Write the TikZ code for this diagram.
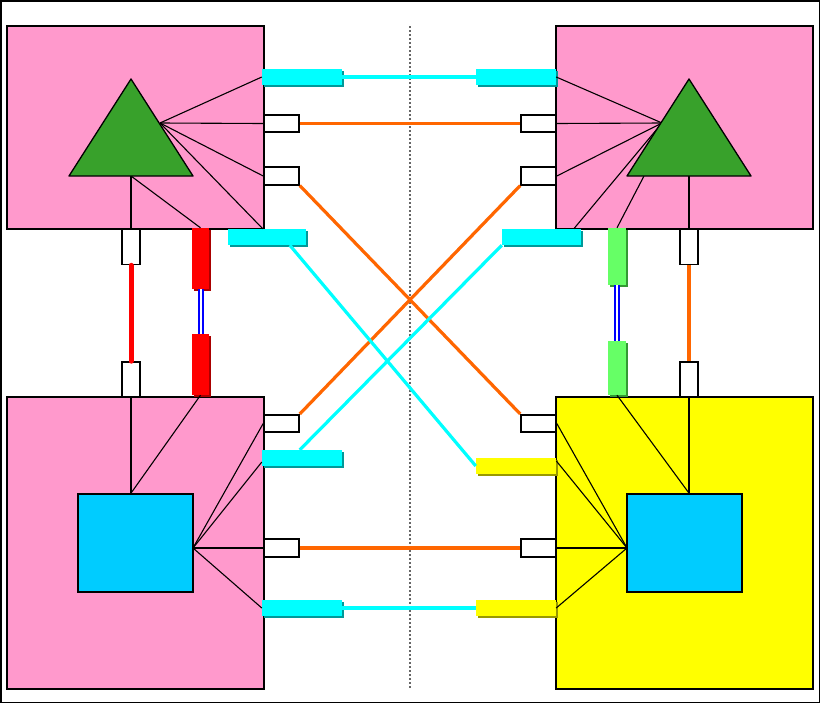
\documentclass[tikz,border=0pt]{standalone}
\usetikzlibrary{calc,shadows}
\definecolor{pinkc}{HTML}{FF99CC}
\definecolor{treec}{RGB}{56,161,43}
\definecolor{sqc}{HTML}{00CCFF}
\definecolor{cyanc}{HTML}{00FFFF}
\definecolor{cyansh}{HTML}{009999}
\definecolor{yelc}{HTML}{FFFF00}
\definecolor{yelsh}{HTML}{999900}
\definecolor{redc}{HTML}{FF0000}
\definecolor{redsh}{HTML}{AA0000}
\definecolor{grnc}{HTML}{66FF66}
\definecolor{grnsh}{HTML}{339933}
\definecolor{orc}{HTML}{FF6600}
\definecolor{dotc}{HTML}{666666}
\tikzset{
  x=1pt, y=-1pt,
  site/.style={draw=black, line width=1.7pt, fill=#1},
  port/.style={draw=black, line width=1.6pt, fill=white, inner sep=0pt, minimum width=35pt, minimum height=17.5pt},
  vport/.style={draw=black, line width=1.6pt, fill=white, inner sep=0pt, minimum width=17.5pt, minimum height=35pt},
  bar/.style 2 args={fill=#1, inner sep=0pt, drop shadow={shadow xshift=2pt, shadow yshift=-2pt, fill=#2, opacity=1}},
  cbar/.style={bar={cyanc}{cyansh}, minimum width=80pt, minimum height=16pt},
  ybar/.style={bar={yelc}{yelsh}, minimum width=80pt, minimum height=16pt},
  rbar/.style={bar={redc}{redsh}, minimum width=17pt, minimum height=61pt},
  gbar/.style={bar={grnc}{grnsh}, minimum width=18pt},
  sq/.style={draw=black, line width=1.7pt, fill=sqc, inner sep=0pt, minimum width=115pt, minimum height=98pt},
  fan/.style={draw=black, line width=1.1pt},
  orl/.style={draw=orc, line width=3.2pt},
  cyl/.style={draw=cyanc, line width=3.2pt},
  dbl/.style={draw=blue, line width=2pt, double=white, double distance=2pt},
}
\begin{document}
\begin{tikzpicture}
\useasboundingbox (0,0) rectangle (821,704);
\fill[white] (0,0) rectangle (821,704);
\draw[black, line width=1.4pt] (0.8,0.8) rectangle (819.6,702.6);
% centre divider
\coordinate (dtop) at (410,26);
\coordinate (dbot) at (410,689);
\draw[dotc, dotted, line width=2pt] (dtop) -- (dbot);

% sites
\node[site=pinkc, inner sep=0pt, minimum width=257pt, minimum height=203pt] (tlbox) at (135.5,127.5) {};
\node[site=pinkc, inner sep=0pt, minimum width=257pt, minimum height=203pt] (trbox) at (684.5,127.5) {};
\node[site=pinkc, inner sep=0pt, minimum width=257pt, minimum height=292pt] (blbox) at (135.5,543) {};
\node[site=yelc, inner sep=0pt, minimum width=257pt, minimum height=292pt] (brbox) at (684.5,543) {};

% ports
\node[port] (tl1) at (281.5,123.5) {};
\node[port] (tl2) at (281.5,176) {};
\node[port] (tr1) at (538.5,123.5) {};
\node[port] (tr2) at (538.5,176) {};
\node[port] (bl1) at (281.5,423.5) {};
\node[port] (bl2) at (281.5,548) {};
\node[port] (br1) at (538.5,423.5) {};
\node[port] (br2) at (538.5,548) {};
\node[vport] (tlv) at (131,247) {};
\node[vport] (blv) at (131,379.5) {};
\node[vport] (trv) at (689,247) {};
\node[vport] (brv) at (689,379.5) {};

% bars
\node[cbar] (tlc1) at (302,77) {};
\node[cbar, minimum width=78pt] (tlc2) at (267,237) {};
\node[cbar] (trc1) at (516,77) {};
\node[cbar, minimum width=79pt] (trc2) at (541.5,237) {};
\node[cbar] (blc1) at (302,458) {};
\node[cbar] (blc2) at (302,608) {};
\node[ybar] (bry1) at (516,466) {};
\node[ybar] (bry2) at (516,608) {};
\node[rbar] (red1) at (200.5,258.5) {};
\node[rbar] (red2) at (200.5,364.5) {};
\node[gbar, minimum height=57pt] (grn1) at (617,256.5) {};
\node[gbar, minimum height=54pt] (grn2) at (617,368) {};

% TL internals
\coordinate (tla) at (131,79);
\coordinate (tll) at (69,176);
\coordinate (tlr) at (193,176);
\coordinate (tlb) at (131,176);
\coordinate (tlf) at (160,123);
\draw[fan] (tlf) -- (tlc1.west);
\draw[fan] (tlf) -- (tl1.west);
\draw[fan] (tlf) -- (tl2.west);
\draw[fan] (tlf) -- ($(tlc2.north west)+(35,0)$);
\draw[fan] (tlb) -- (red1.north);
\draw[fan, line width=1.6pt] (tlb) -- (tlv.north);
\filldraw[fill=treec, draw=black, line width=1.3pt, line join=round] (tla) -- (tll) -- (tlr) -- cycle;

% TR internals
\coordinate (tra) at (689,79);
\coordinate (trl) at (627,176);
\coordinate (trr) at (751,176);
\coordinate (trb) at (689,176);
\coordinate (trg) at (644,176);
\coordinate (trf) at (662,123);
\draw[fan] (trf) -- (trc1.east);
\draw[fan] (trf) -- (tr1.east);
\draw[fan] (trf) -- (tr2.east);
\draw[fan] (trf) -- ($(trc2.north west)+(72,0)$);
\draw[fan] (trg) -- (grn1.north);
\draw[fan, line width=1.6pt] (trb) -- (trv.north);
\filldraw[fill=treec, draw=black, line width=1.3pt, line join=round] (tra) -- (trl) -- (trr) -- cycle;

% BL internals
\node[sq] (bls) at (135.5,543) {};
\coordinate (blf) at (193,548);
\draw[fan] (blf) -- (bl1.west);
\draw[fan] ($(blc1.west)+(0,4)$) -- (blf);
\draw[fan] (blf) -- (bl2.west);
\draw[fan] (blf) -- (blc2.west);
\draw[fan, line width=1.6pt] (blv.south) -- (blv.south |- bls.north);
\draw[fan] (blv.south |- bls.north) -- (red2.south);

% BR internals
\node[sq] (brs) at (684.5,543) {};
\coordinate (brf) at (627,548);
\draw[fan] (brf) -- (br1.east);
\draw[fan] (brf) -- ($(bry1.north east)+(0,3)$);
\draw[fan] (brf) -- (br2.east);
\draw[fan] (brf) -- (bry2.east);
\draw[fan, line width=1.6pt] (brv.south) -- (brv.south |- brs.north);
\draw[fan] (brv.south |- brs.north) -- (grn2.south);

% links
\draw[cyl] (tlc1.east) -- (trc1.west);
\draw[orl] (tl1.east) -- (tr1.west);
\draw[orl] (tl2.south east) -- (br1.north west);
\draw[orl] (bl1.north east) -- (tr2.south west);
\draw[cyl] ($(tlc2.south west)+(62,0)$) -- (bry1.west);
\draw[cyl] ($(blc1.north west)+(38,0)$) -- (trc2.south west);
\draw[orl] (bl2.east) -- (br2.west);
\draw[cyl] (blc2.east) -- (bry2.west);
\draw[redc, line width=5pt, line cap=round] (tlv.south) -- (blv.north);
\draw[orl] (trv.south) -- (brv.north);
\draw[dbl] (red1.south) -- (red2.north);
\draw[dbl] (grn1.south) -- (grn2.north);
\end{tikzpicture}
\end{document}
